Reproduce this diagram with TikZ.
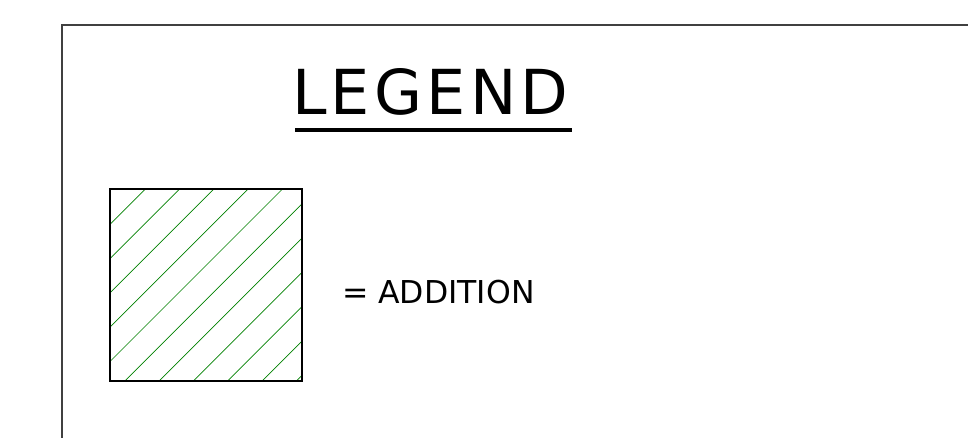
\documentclass[tikz,border=0pt]{standalone}
\usepackage{fontspec}
\setmainfont{DejaVu Sans}
\newfontfamily\titlefont[LetterSpace=7]{DejaVu Sans}
\usetikzlibrary{positioning, calc}

\begin{document}
\begin{tikzpicture}[
        x=1pt, y=-1pt,
        every node/.style={inner sep=0pt, outer sep=0pt},
        frameline/.style={line width=1.5pt, black!75},
        hatchline/.style={green!50!black, line width=0.7pt}
    ]
        \useasboundingbox (0,0) rectangle (968,438);
        \draw[frameline] (62,438) -- (62,25) -- (968,25);

        \node[anchor=base west, font=\titlefont\fontsize{62}{62}\selectfont] (title) at (292,115) {LEGEND};
        \draw[line width=4pt] ($(title.base west)+(3,15)$) -- ($(title.base west)+(280,15)$);

        % hatched sample
        \node[draw, line width=1.2pt, minimum size=192pt] (hatchbox) at (206,285) {};
        \begin{scope}
            \clip (hatchbox.south west) rectangle (hatchbox.north east);
            \foreach \k [evaluate=\k as \c using 300+34.3*\k] in {0,...,11}
                \draw[hatchline] ({\c-180},180) -- ({\c-390},390);
        \end{scope}
        \draw[line width=1.2pt] (hatchbox.south west) rectangle (hatchbox.north east);

        \node[anchor=base west, font=\fontsize{31.5}{31.5}\selectfont] (addition) at (342,303) {= ADDITION};
    \end{tikzpicture}
\end{document}
